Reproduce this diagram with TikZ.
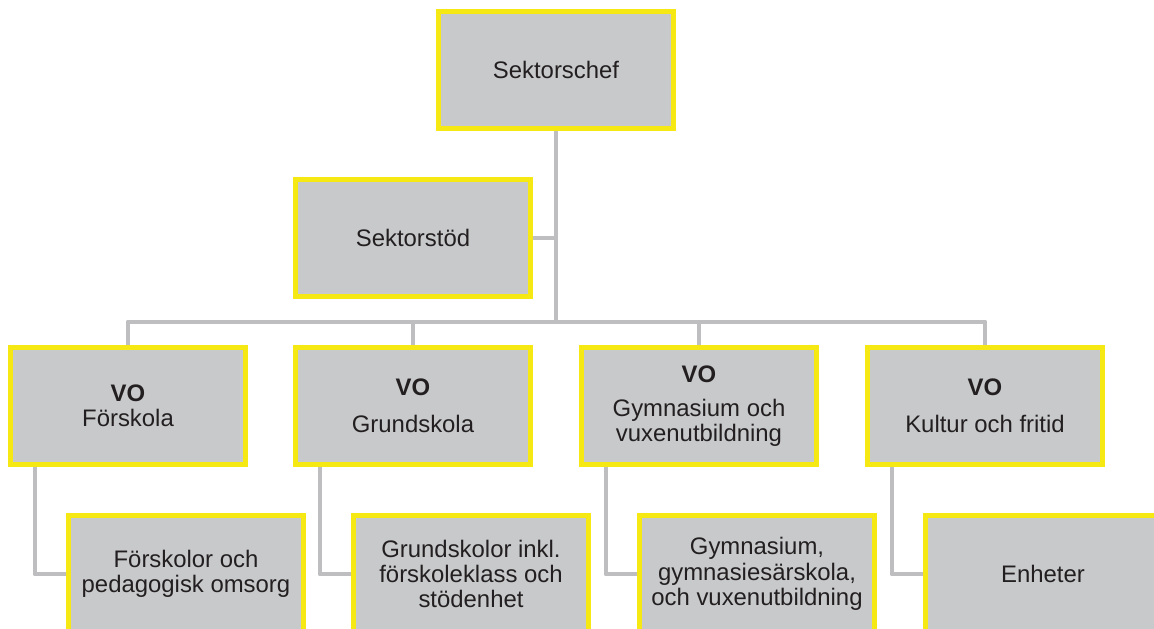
\documentclass[tikz,border=0pt]{standalone}
\usepackage{fontspec}
\setmainfont{Liberation Sans}
\usetikzlibrary{positioning}

\definecolor{boxgray}{RGB}{200,201,203}
\definecolor{boxyellow}{RGB}{246,232,18}
\definecolor{linegray}{RGB}{190,190,192}
\definecolor{textdark}{RGB}{35,31,32}

\tikzset{
  unit/.style={draw=boxyellow, fill=boxgray, line width=3.5pt,
    minimum width=5.875cm, minimum height=2.925cm, align=center,
    text=textdark, font=\fontsize{17}{18}\selectfont},
  conn/.style={draw=linegray, line width=3.5pt, line join=round}
}

\begin{document}
\begin{tikzpicture}[]

\def\busY{-8.05}
\def\voY{-10.15}
\def\subY{-14.35}
\def\subX{1.45}

\useasboundingbox (0,0) rectangle (28.85,-15.725);

% ledning
\node[unit] (head) at (13.9,-1.75) {Sektorschef};
\node[unit] (stod) at (10.325,-5.95) {Sektorstöd};

% verksamhetsområden
\node[unit] (vo1) at (3.2,\voY) {\textbf{VO}\\Förskola};
\node[unit] (vo2) at (10.325,\voY) {\textbf{VO}\\[8pt]Grundskola};
\node[unit] (vo3) at (17.475,\voY) {\textbf{VO}\\[6pt]Gymnasium och\\vuxenutbildning};
\node[unit] (vo4) at (24.625,\voY) {\textbf{VO}\\[8pt]Kultur och fritid};

% enheter
\node[unit] (sub1) at (3.2+\subX,\subY) {Förskolor och\\pedagogisk omsorg};
\node[unit] (sub2) at (10.325+\subX,\subY) {Grundskolor inkl.\\förskoleklass och\\stödenhet};
\node[unit] (sub3) at (17.475+\subX,\subY) {Gymnasium,\\gymnasiesärskola,\\och vuxenutbildning};
\node[unit] (sub4) at (24.625+\subX,\subY) {Enheter};

\coordinate (bus) at (13.9,\busY);

\draw[conn] (head) -- (bus);
\draw[conn] (stod) -- (stod -| head);
\draw[conn] (vo1) |- (bus) -| (vo4);
\draw[conn] (vo2) -- (vo2 |- bus);
\draw[conn] (vo3) -- (vo3 |- bus);

\draw[conn] ([xshift=-2.325cm]vo1.south) |- (sub1);
\draw[conn] ([xshift=-2.325cm]vo2.south) |- (sub2);
\draw[conn] ([xshift=-2.325cm]vo3.south) |- (sub3);
\draw[conn] ([xshift=-2.325cm]vo4.south) |- (sub4);

\end{tikzpicture}
\end{document}
